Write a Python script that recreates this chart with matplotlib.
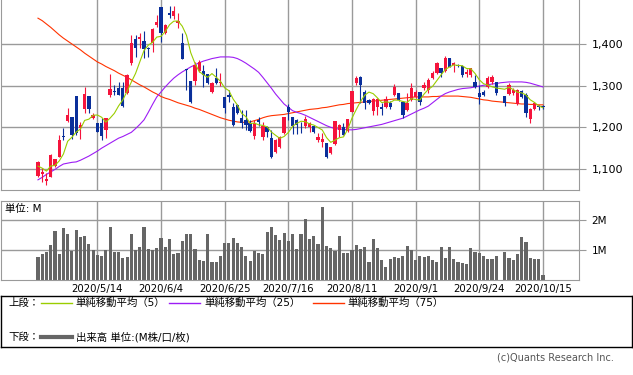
import numpy as np
import pandas as pd
import matplotlib
matplotlib.use("Agg")
import matplotlib.pyplot as plt
from matplotlib.lines import Line2D

plt.rcParams['font.family'] = ['DejaVu Sans', 'Noto Sans CJK JP']

nan = np.nan

# daily candles, index 0 = first visible day (10/1 had no trading)
opens = [1083, 1087, 1072, 1081, 1107, 1129, 1179, 1215, 1225, 1275,
         1198, 1244, 1275, 1222, 1210, 1210, 1194, 1277, 1288, 1294,
         1294, 1282, 1354, 1412, 1412, 1407, 1391, 1402, 1446, 1489,
         1426, 1474, 1467, 1450, 1402, 1339, 1311, 1311, 1335, 1335,
         1328, 1285, 1318, 1306, 1273, 1278, 1249, 1254, 1222, 1218,
         1210, 1179, 1218, 1177, 1201, 1174, 1141, 1153, 1186, 1249,
         1225, 1218, 1204, 1203, 1201, 1203, 1170, 1165, 1162, 1138,
         1160, 1194, 1201, 1191, 1237, 1306, 1321, 1285, 1266, 1239,
         1249, 1248, 1249, 1258, 1278, 1282, 1261, 1242, 1266, 1273,
         1285, 1294, 1290, 1318, 1330, 1342, 1335, 1366, 1350, 1350,
         1347, 1328, 1326, 1309, 1282, 1285, 1297, 1309, 1309, nan,
         1275, 1280, 1282, 1256, 1287, 1278, 1220, 1244, 1251, 1252]
closes = [1117, 1092, 1076, 1134, 1124, 1170, 1176, 1229, 1182, 1186,
          1206, 1280, 1244, 1229, 1189, 1179, 1222, 1292, 1286, 1278,
          1251, 1326, 1402, 1390, 1417, 1388, 1389, 1436, 1453, 1426,
          1446, 1470, 1479, 1455, 1364, 1337, 1261, 1350, 1357, 1326,
          1306, 1306, 1306, 1309, 1246, 1273, 1205, 1234, 1210, 1206,
          1191, 1210, 1213, 1203, 1189, 1129, 1170, 1177, 1225, 1237,
          1203, 1206, 1202, 1220, 1210, 1189, 1177, 1172, 1129, 1153,
          1215, 1206, 1182, 1220, 1287, 1318, 1302, 1258, 1258, 1268,
          1268, 1245, 1268, 1249, 1297, 1266, 1230, 1258, 1294, 1285,
          1261, 1302, 1314, 1330, 1354, 1330, 1366, 1345, 1354, 1348,
          1326, 1333, 1342, 1297, 1273, 1278, 1318, 1321, 1282, nan,
          1258, 1302, 1290, 1290, 1273, 1234, 1244, 1258, 1249, 1250]
highs = [1119, 1102, 1090, 1136, 1125, 1182, 1198, 1246, 1226, 1276,
         1213, 1297, 1276, 1234, 1211, 1222, 1223, 1328, 1302, 1309,
         1309, 1327, 1422, 1422, 1426, 1431, 1393, 1438, 1470, 1490,
         1448, 1491, 1491, 1474, 1426, 1341, 1312, 1357, 1362, 1350,
         1329, 1308, 1342, 1330, 1274, 1290, 1258, 1255, 1242, 1242,
         1218, 1218, 1225, 1213, 1203, 1194, 1171, 1179, 1226, 1256,
         1226, 1219, 1213, 1227, 1213, 1204, 1186, 1186, 1163, 1154,
         1216, 1207, 1210, 1221, 1288, 1323, 1324, 1290, 1268, 1270,
         1271, 1258, 1275, 1263, 1304, 1283, 1263, 1282, 1306, 1290,
         1286, 1309, 1318, 1335, 1357, 1343, 1371, 1367, 1357, 1352,
         1350, 1340, 1343, 1326, 1302, 1290, 1323, 1326, 1310, nan,
         1276, 1306, 1294, 1292, 1290, 1282, 1246, 1260, 1254, 1254]
lows = [1081, 1069, 1062, 1080, 1106, 1128, 1170, 1213, 1172, 1182,
        1172, 1234, 1234, 1221, 1188, 1170, 1174, 1273, 1278, 1277,
        1250, 1281, 1350, 1369, 1390, 1366, 1369, 1381, 1441, 1405,
        1424, 1462, 1460, 1438, 1363, 1290, 1258, 1302, 1334, 1297,
        1304, 1282, 1305, 1300, 1234, 1261, 1203, 1231, 1198, 1194,
        1190, 1172, 1203, 1170, 1177, 1126, 1139, 1151, 1184, 1218,
        1184, 1184, 1186, 1199, 1189, 1186, 1165, 1153, 1126, 1137,
        1158, 1177, 1181, 1189, 1236, 1302, 1258, 1244, 1256, 1230,
        1230, 1230, 1246, 1244, 1275, 1263, 1222, 1239, 1264, 1270,
        1254, 1290, 1282, 1316, 1328, 1321, 1334, 1344, 1333, 1345,
        1321, 1321, 1321, 1295, 1256, 1276, 1295, 1305, 1278, nan,
        1251, 1278, 1278, 1254, 1270, 1225, 1210, 1242, 1242, 1244]

# four closes before the first visible day (for the 5-day average)
prior_close = [1117, 1111, 1074, 1116]

ma25 = [1074, 1080, 1087, 1093, 1099, 1106, 1112, 1114, 1116, 1117,
        1121, 1126, 1131, 1137, 1143, 1150, 1156, 1162, 1168, 1174,
        1178, 1183, 1188, 1197, 1207, 1218, 1236, 1255, 1273, 1285,
        1297, 1308, 1318, 1326, 1333, 1339, 1345, 1350, 1355, 1359,
        1362, 1365, 1367, 1369, 1369, 1369, 1368, 1365, 1360, 1354,
        1347, 1340, 1332, 1320, 1307, 1294, 1280, 1268, 1256, 1248,
        1240, 1236, 1233, 1229, 1224, 1219, 1214, 1209, 1204, 1200,
        1197, 1196, 1195, 1194, 1194, 1195, 1197, 1199, 1201, 1203,
        1205, 1207, 1210, 1213, 1216, 1219, 1222, 1227, 1232, 1237,
        1242, 1246, 1251, 1259, 1267, 1275, 1281, 1285, 1288, 1291,
        1293, 1294, 1295, 1297, 1299, 1301, 1302, 1304, 1305, 1307,
        1308, 1309, 1309, 1309, 1309, 1308, 1306, 1303, 1300, 1297]
ma75 = [1462, 1456, 1448, 1440, 1431, 1422, 1414, 1407, 1400, 1393,
        1386, 1378, 1371, 1364, 1357, 1352, 1346, 1341, 1336, 1330,
        1325, 1320, 1314, 1308, 1302, 1297, 1291, 1285, 1280, 1274,
        1270, 1267, 1263, 1259, 1256, 1253, 1250, 1246, 1243, 1239,
        1235, 1231, 1227, 1223, 1220, 1217, 1215, 1213, 1212, 1212,
        1213, 1216, 1219, 1223, 1226, 1228, 1229, 1230, 1231, 1233,
        1235, 1237, 1239, 1241, 1243, 1244, 1245, 1247, 1248, 1250,
        1252, 1254, 1255, 1257, 1258, 1259, 1260, 1261, 1262, 1263,
        1264, 1265, 1266, 1267, 1268, 1269, 1270, 1271, 1272, 1273,
        1273, 1273, 1273, 1274, 1274, 1275, 1275, 1275, 1275, 1275,
        1274, 1273, 1272, 1270, 1268, 1266, 1265, 1263, 1262, 1261,
        1260, 1259, 1258, 1257, 1256, 1256, 1255, 1255, 1254, 1254]

# volume in millions
volume = [0.78, 0.87, 0.94, 1.17, 1.63, 0.87, 1.72, 1.53, 0.98, 1.67,
          1.43, 1.47, 1.20, 1.00, 0.83, 0.80, 1.00, 1.77, 0.93, 0.93,
          0.74, 0.77, 1.53, 1.00, 1.10, 1.77, 1.03, 1.00, 1.08, 1.40,
          1.10, 1.37, 0.87, 0.90, 1.30, 1.53, 1.53, 1.03, 0.67, 0.63,
          1.53, 0.60, 0.60, 0.80, 1.23, 1.23, 1.40, 1.23, 1.10, 0.80,
          0.63, 0.97, 0.90, 0.87, 1.60, 1.77, 1.50, 1.33, 1.57, 1.30,
          1.53, 1.03, 1.53, 2.03, 1.37, 1.47, 1.20, 2.43, 1.13, 1.07,
          0.97, 1.47, 0.90, 0.90, 1.00, 1.17, 1.03, 1.10, 0.60, 1.37,
          1.07, 0.67, 0.43, 0.70, 0.77, 0.73, 0.80, 1.13, 1.00, 0.67,
          0.80, 0.77, 0.80, 0.67, 0.60, 1.10, 0.73, 1.10, 0.70, 0.60,
          0.57, 0.53, 1.07, 0.93, 0.90, 0.80, 0.70, 0.70, 0.80, 0.00,
          0.93, 0.73, 0.67, 0.87, 1.43, 1.27, 0.73, 0.70, 0.70, 0.17]

tick_idx = [14, 29, 44, 59, 74, 89, 104, 119]
tick_labels = ['2020/5/14', '2020/6/4', '2020/6/25', '2020/7/16',
               '2020/8/11', '2020/9/1', '2020/9/24', '2020/10/15']
price_ticks = [1100, 1200, 1300, 1400]
vol_ticks = [1, 2]

df = pd.DataFrame({'open': opens, 'high': highs, 'low': lows,
                   'close': closes, 'vol': volume, 'ma25': ma25, 'ma75': ma75})
df['x'] = np.arange(len(df))
trade = df.dropna(subset=['close'])
c5 = pd.concat([pd.Series(prior_close, dtype=float), trade['close']], ignore_index=True)
ma5 = c5.rolling(5).mean().iloc[len(prior_close):].values

UP, DOWN = '#f5143c', '#0a2f9a'
GRID = '#9a9a9a'
W, H = 633, 375


def px_axes(left, top, right, bottom):
    return fig.add_axes([left / W, 1 - bottom / H, (right - left) / W, (bottom - top) / H])


fig = plt.figure(figsize=(W / 100, H / 100), dpi=100)
xlim = (-8.83, 127.5)

# upper panel: candles + moving averages
ax = px_axes(0.5, 0, 579, 190)
ax.set_xlim(*xlim)
ax.set_ylim(1049.6, 1505.6)
for v in price_ticks:
    ax.axhline(v, color=GRID, lw=1, zorder=0)
for t in tick_idx:
    ax.axvline(t, color=GRID, lw=1, zorder=0)

ax.plot(df['x'], df['ma75'], color='#ff3300', lw=0.8, zorder=2)
ax.plot(df['x'], df['ma25'], color='#9d1cf5', lw=0.8, zorder=2)
ax.plot(trade['x'], ma5, color='#9acd00', lw=0.8, zorder=4)

up = trade['close'] >= trade['open']
cols = np.where(up, UP, DOWN)
ax.vlines(trade['x'], trade['low'], trade['high'], colors=cols, lw=0.8, zorder=3)
body_lo = np.minimum(trade['open'], trade['close'])
body_h = np.maximum((trade['close'] - trade['open']).abs(), 2.0)
ax.bar(trade['x'], body_h, bottom=body_lo, width=0.78, color=cols, lw=0, zorder=3)

ax.yaxis.tick_right()
ax.set_yticks(price_ticks)
ax.set_yticklabels([f'{v:,}' for v in price_ticks])
ax.tick_params(axis='y', length=5, color=GRID, labelsize=8, pad=4)
ax.set_xticks([])
for s in ['left', 'right', 'bottom']:
    ax.spines[s].set_color(GRID)
ax.spines['top'].set_visible(False)

# lower panel: volume
av = px_axes(0.5, 201, 579, 280)
av.set_xlim(*xlim)
av.set_ylim(0, 2.633)
for v in vol_ticks:
    av.axhline(v, color=GRID, lw=1, zorder=0)
for t in tick_idx:
    av.axvline(t, color=GRID, lw=1, zorder=0)
av.bar(df['x'], df['vol'], width=0.74, color='#666666', lw=0, zorder=2)
av.yaxis.tick_right()
av.set_yticks(vol_ticks)
av.set_yticklabels([f'{v}M' for v in vol_ticks])
av.tick_params(axis='y', length=5, color=GRID, labelsize=7.5, pad=4)
av.set_xticks(tick_idx)
av.set_xticklabels(tick_labels)
av.tick_params(axis='x', length=0, labelsize=7.3, pad=3)
for s in av.spines.values():
    s.set_color(GRID)
av.text(0.008, 0.9, '単位: M', transform=av.transAxes, fontsize=7.5, va='center', ha='left')

# legend box
lg = px_axes(0.5, 296, 632, 347)
lg.set_xlim(0, 631.5)
lg.set_ylim(51, 0)
lg.set_xticks([])
lg.set_yticks([])
for s in lg.spines.values():
    s.set_color('black')
    s.set_linewidth(1)
lg.text(8, 7, '上段：', fontsize=7.5, va='center')
lg.text(8, 41, '下段：', fontsize=7.5, va='center')
items = [(40, 75, '#9acd00', '単純移動平均（5）'),
         (168, 204, '#9d1cf5', '単純移動平均（25）'),
         (312, 347, '#ff3300', '単純移動平均（75）')]
for x0, tx, c, lab in items:
    lg.add_line(Line2D([x0, x0 + 31], [7, 7], color=c, lw=1))
    lg.text(tx, 7, lab, fontsize=7.5, va='center')
lg.add_line(Line2D([40, 71], [41, 41], color='#666666', lw=3))
lg.text(75, 41, '出来高 単位:(M株/口/枚)', fontsize=7.5, va='center')

fig.text(614 / W, 1 - 358 / H, '(c)Quants Research Inc.', ha='right', va='center',
         fontsize=7, color='#555555')

fig.savefig('out.png', dpi=100)
